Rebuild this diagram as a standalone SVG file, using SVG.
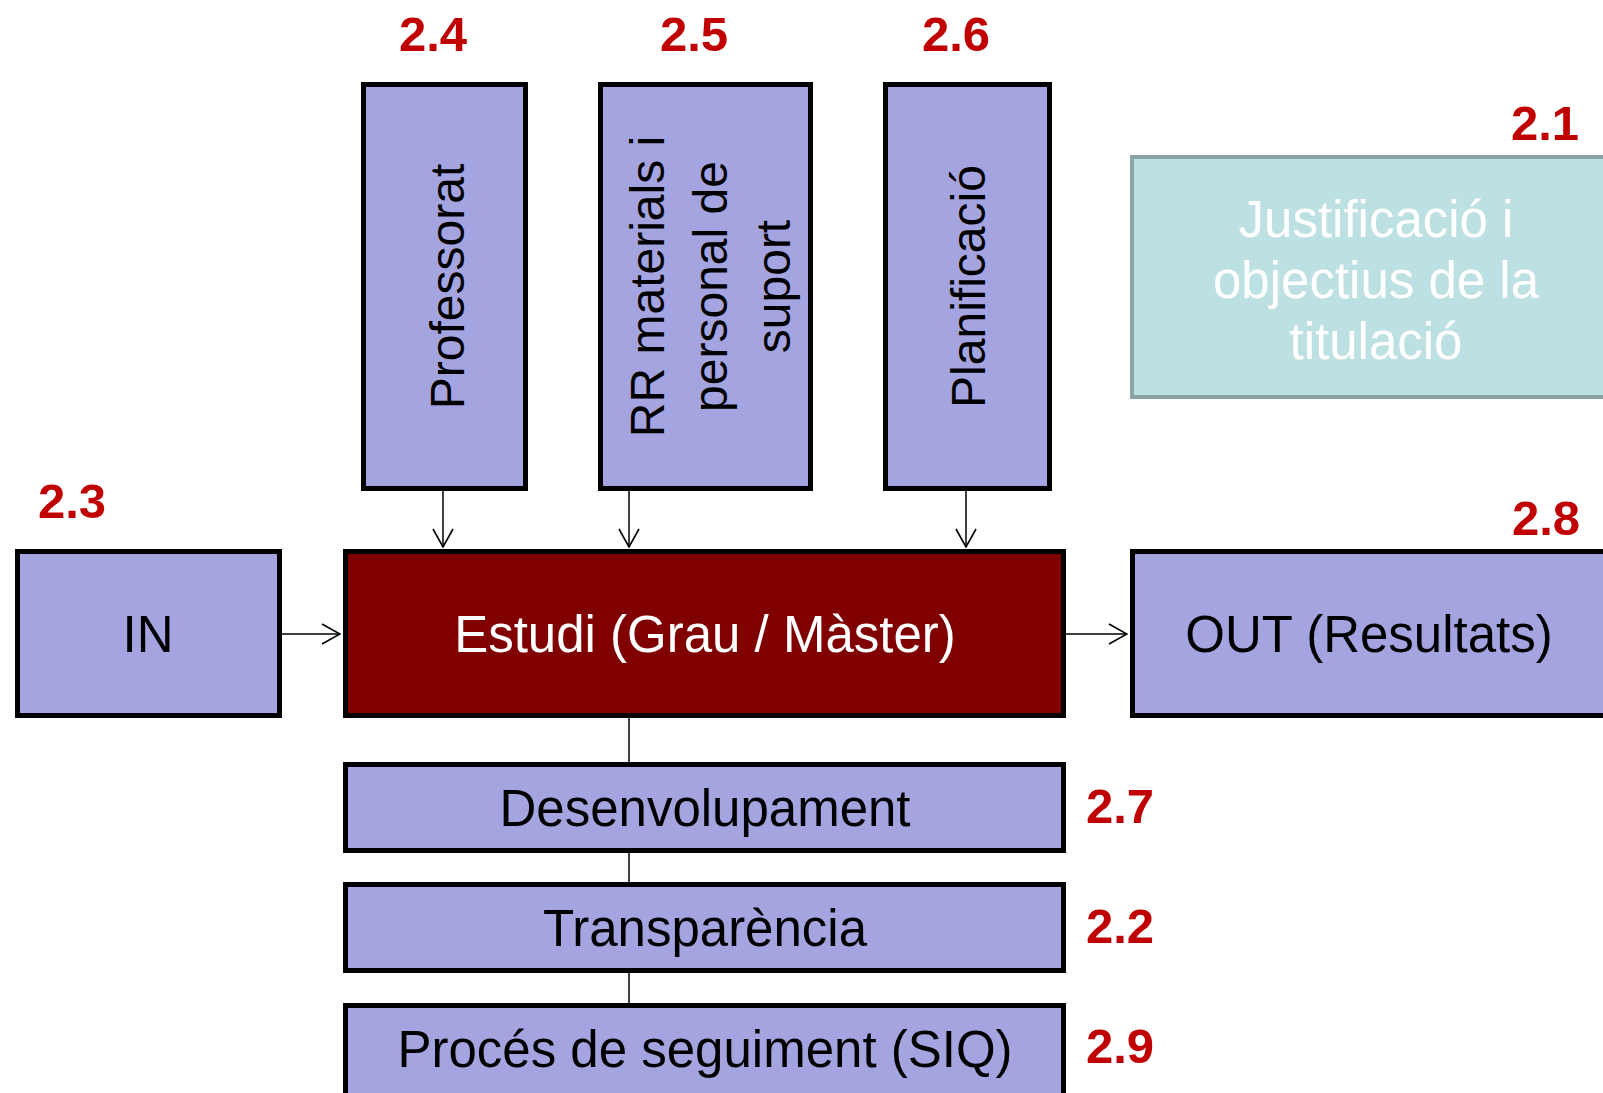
<svg xmlns="http://www.w3.org/2000/svg" width="1603" height="1093" viewBox="0 0 1603 1093">
<defs>
<style>
.box{fill:#A4A4E0;stroke:#000;stroke-width:5}
.dark{fill:#800000;stroke:#000;stroke-width:5}
.teal{fill:#BDE0E3;stroke:#8BA5A6;stroke-width:4}
.t{font-family:"Liberation Sans",Arial,sans-serif;font-size:51px;fill:#000;text-anchor:middle}
.tr{font-family:"Liberation Sans",Arial,sans-serif;font-size:48px;fill:#000;text-anchor:middle}
.w{fill:#fff}
.lbl{font-family:"Liberation Sans",Arial,sans-serif;font-size:49px;font-weight:bold;fill:#C00000}
.c{stroke:#000;stroke-width:1.5;fill:none}
</style>
<marker id="arr" viewBox="0 0 20 22" refX="19" refY="11" markerWidth="20" markerHeight="22" markerUnits="userSpaceOnUse" orient="auto">
<path d="M1,1 L19,11 L1,21" fill="none" stroke="#000" stroke-width="1.6"/>
</marker>
</defs>
<rect width="1603" height="1093" fill="#fff"/>
<g id="connectors">
<line class="c" x1="280" y1="634" x2="340" y2="634" marker-end="url(#arr)"/>
<line class="c" x1="1066" y1="634" x2="1127" y2="634" marker-end="url(#arr)"/>
<line class="c" x1="443" y1="491" x2="443" y2="547" marker-end="url(#arr)"/>
<line class="c" x1="629" y1="491" x2="629" y2="547" marker-end="url(#arr)"/>
<line class="c" x1="966" y1="491" x2="966" y2="547" marker-end="url(#arr)"/>
<line class="c" x1="629" y1="718" x2="629" y2="762"/>
<line class="c" x1="629" y1="853" x2="629" y2="882"/>
<line class="c" x1="629" y1="973" x2="629" y2="1003"/>
</g>
<g id="professorat">
<rect class="box" x="363.5" y="84.5" width="162" height="404"/>
<text class="tr" transform="translate(464,286.5) rotate(-90)">Professorat</text>
</g>
<g id="rr">
<rect class="box" x="600.5" y="84.5" width="210" height="404"/>
<text class="tr" transform="translate(664,286.5) rotate(-90)"><tspan x="0" dy="0">RR materials i</tspan><tspan x="0" dy="63">personal de</tspan><tspan x="0" dy="63">suport</tspan></text>
</g>
<g id="planificacio">
<rect class="box" x="885.5" y="84.5" width="164" height="404"/>
<text class="tr" transform="translate(985,286.5) rotate(-90)">Planificació</text>
</g>
<g id="justificacio">
<rect class="teal" x="1132" y="157" width="490" height="240"/>
<text class="t w" x="1376" y="237">Justificació i</text>
<text class="t w" x="1376" y="298">objectius de la</text>
<text class="t w" x="1376" y="359">titulació</text>
</g>
<g id="in">
<rect class="box" x="17.5" y="551.5" width="262" height="164"/>
<text class="t" x="148" y="652">IN</text>
</g>
<g id="estudi">
<rect class="dark" x="345.5" y="551.5" width="718" height="164"/>
<text class="t w" x="705" y="652">Estudi (Grau / Màster)</text>
</g>
<g id="out">
<rect class="box" x="1132.5" y="551.5" width="490" height="164"/>
<text class="t" x="1369" y="652">OUT (Resultats)</text>
</g>
<g id="desenvolupament">
<rect class="box" x="345.5" y="764.5" width="718" height="86"/>
<text class="t" x="705" y="826">Desenvolupament</text>
</g>
<g id="transparencia">
<rect class="box" x="345.5" y="884.5" width="718" height="86"/>
<text class="t" x="705" y="946">Transparència</text>
</g>
<g id="proces">
<rect class="box" x="345.5" y="1005.5" width="718" height="110"/>
<text class="t" x="705" y="1067">Procés de seguiment (SIQ)</text>
</g>
<g id="labels">
<text class="lbl" x="399" y="51">2.4</text>
<text class="lbl" x="660" y="51">2.5</text>
<text class="lbl" x="922" y="51">2.6</text>
<text class="lbl" x="1511" y="140">2.1</text>
<text class="lbl" x="38" y="518">2.3</text>
<text class="lbl" x="1512" y="535">2.8</text>
<text class="lbl" x="1086" y="823">2.7</text>
<text class="lbl" x="1086" y="943">2.2</text>
<text class="lbl" x="1086" y="1063">2.9</text>
</g>
</svg>
